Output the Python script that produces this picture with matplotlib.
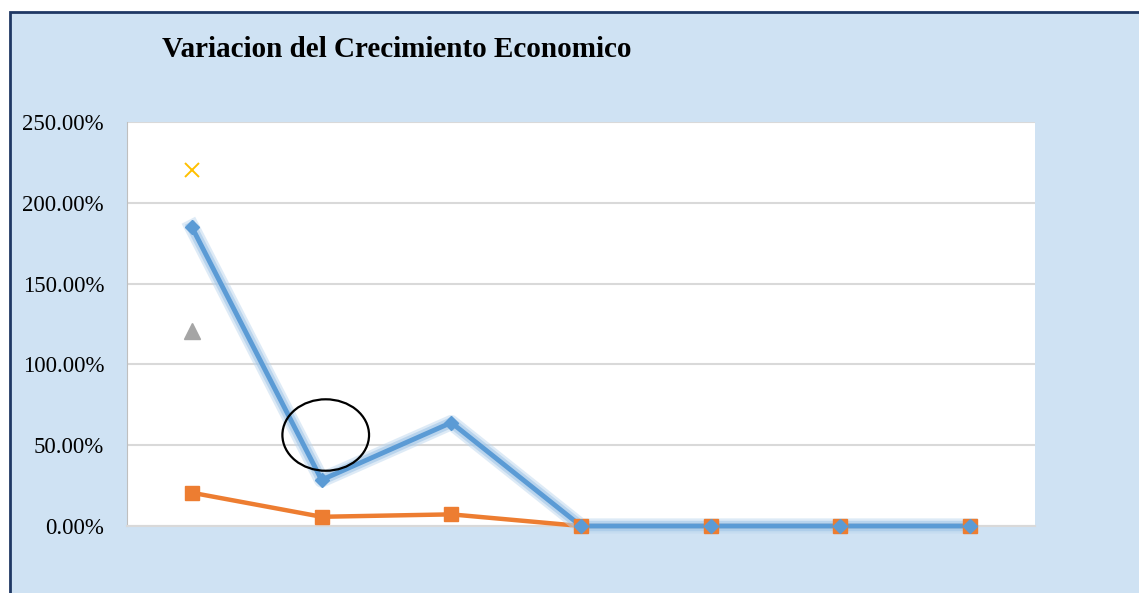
import matplotlib
matplotlib.use("Agg")
import matplotlib.pyplot as plt
import matplotlib.patheffects as pe
from matplotlib.patches import Rectangle, Ellipse
from matplotlib.ticker import FuncFormatter
import numpy as np

# ---- data ----
categories = ["1", "2", "3", "4", "5", "6", "7"]
serie_azul = [185.0, 28.5, 64.0, 0.0, 0.0, 0.0, 0.0]
serie_naranja = [20.6, 5.7, 7.2, 0.0, 0.0, 0.0, 0.0]
serie_gris = [120.5, np.nan, np.nan, np.nan, np.nan, np.nan, np.nan]
serie_amarilla = [220.3, np.nan, np.nan, np.nan, np.nan, np.nan, np.nan]
yticks = [0, 50, 100, 150, 200, 250]
title = "Variacion del Crecimiento Economico"

W, H, DPI = 1139, 593, 100
fig = plt.figure(figsize=(W / DPI, H / DPI), dpi=DPI, facecolor="white")

# chart area background with border (extends past right/bottom edges)
bg = Rectangle((10 / W, -0.1), 1.2, 1 - 12.5 / H + 0.1, transform=fig.transFigure,
               facecolor="#CFE2F3", edgecolor="#1F3864", linewidth=2.0, zorder=-5)
fig.patches.append(bg)

ax = fig.add_axes([127 / W, 1 - 526 / H, (1035 - 127) / W, (526 - 122) / H])
ax.set_facecolor("white")
x = np.arange(len(categories))

glow = [pe.Stroke(linewidth=11, foreground="#BDD7EE", alpha=0.5),
        pe.Stroke(linewidth=7.5, foreground="#9DC3E6", alpha=0.55),
        pe.Normal()]

# lines
ax.plot(x, serie_naranja, color="#ED7D31", linewidth=3.2, zorder=3, clip_on=False)
ax.plot(x, serie_azul, color="#5B9BD5", linewidth=3.5, zorder=4, clip_on=False,
        path_effects=glow)
# markers
ax.plot(x, serie_naranja, color="#ED7D31", linestyle="none", marker="s", markersize=10,
        zorder=5, clip_on=False)
ax.plot(x, serie_azul, color="#5B9BD5", linestyle="none", marker="D", markersize=7.5,
        zorder=6, clip_on=False)
ax.plot(x, serie_gris, color="#A5A5A5", linestyle="none", marker="^", markersize=11,
        zorder=6, clip_on=False)
ax.plot(x, serie_amarilla, color="#FFC000", linestyle="none", marker="x", markersize=10,
        markeredgewidth=1.4, zorder=6, clip_on=False)

ax.add_patch(Ellipse((1.032, 56.3), 0.668, 44.2, fill=False, edgecolor="black",
                     linewidth=1.6, zorder=7, clip_on=False))

ax.set_xlim(-0.5, len(categories) - 0.5)
ax.set_ylim(0, 250)
ax.set_yticks(yticks)
ax.yaxis.set_major_formatter(FuncFormatter(lambda v, p: f"{v:.2f}%"))
ax.set_xticks([])
ax.grid(axis="y", color="#D9D9D9", linewidth=1.5, zorder=0)
ax.set_axisbelow(True)
ax.tick_params(axis="y", length=0, pad=16.5, labelsize=16.5)
for lab in ax.get_yticklabels():
    lab.set_fontfamily("Liberation Serif")
    lab.set_color("black")
for s in ["top", "right"]:
    ax.spines[s].set_visible(False)
ax.spines["left"].set_color("#BFBFBF")
ax.spines["bottom"].set_color("#D9D9D9")
ax.spines["bottom"].set_linewidth(1.5)

fig.text(162 / W, 1 - 57 / H, title, ha="left", va="baseline", fontsize=21,
         fontweight="bold", fontfamily="Liberation Serif", color="black")

fig.savefig("out.png", dpi=DPI, facecolor="white")
